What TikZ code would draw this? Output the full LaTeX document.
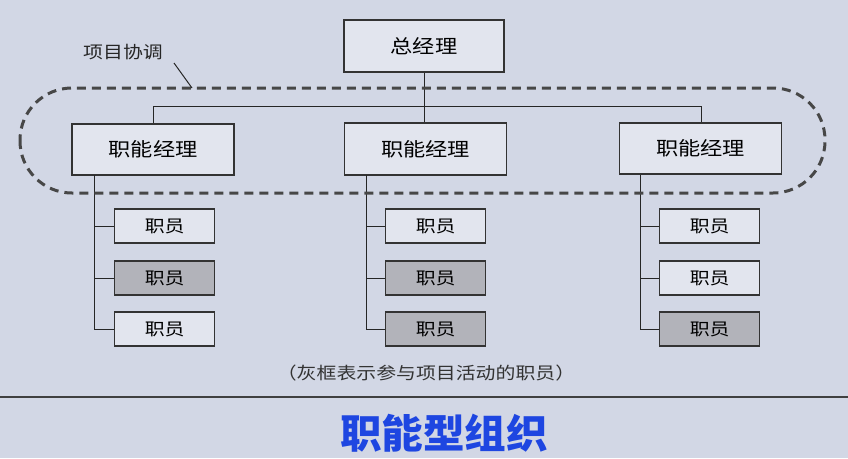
\documentclass[tikz,border=0pt]{standalone}
\usepackage{fontspec}
\newfontfamily\cjk{Noto Sans CJK SC}
\newcommand{\widetxt}[1]{\scalebox{1.17}[1]{#1}}
\begin{document}
\begin{tikzpicture}[x=1pt,y=-1pt,
  bx/.style={draw=black!80,line width=1.3pt,fill=boxw,inner sep=0pt,font=\cjk\fontsize{19}{19}\selectfont},
  emp/.style={draw=black!80,line width=1.3pt,fill=boxw,inner sep=0pt,minimum width=100pt,minimum height=34pt,font=\cjk\fontsize{17}{17}\selectfont},
  grayemp/.style={emp,fill=boxg},
  ln/.style={draw=black!85,line width=1pt}]
\definecolor{bg}{RGB}{210,215,229}
\definecolor{boxw}{RGB}{226,229,238}
\definecolor{boxg}{RGB}{178,179,186}
\definecolor{ttl}{RGB}{30,70,225}
\fill[bg] (0,0) rectangle (848,458);
\useasboundingbox (0,0) rectangle (848,458);
% boxes
\node[bx,minimum width=160pt,minimum height=52pt] (gm) at (424,46) {\widetxt{总经理}};
\node[bx,minimum width=162pt,minimum height=51pt] (f1) at (153,149.5) {\widetxt{职能经理}};
\node[bx,minimum width=162pt,minimum height=52pt] (f2) at (425.5,149) {\widetxt{职能经理}};
\node[bx,minimum width=162pt,minimum height=51pt] (f3) at (700.5,148.5) {\widetxt{职能经理}};
% connectors top
\coordinate (hl) at (153,106);
\coordinate (hr) at (701,106);
\draw[ln] (gm.south) -- (gm.south |- f2.north);
\draw[ln] (hl) -- (hr);
\draw[ln] (hl) -- (hl |- f1.north);
\draw[ln] (hr) -- (hr |- f3.north);
% employees
\foreach \c/\tx/\bxl/\sa/\sb/\sc in {1/94/114/emp/grayemp/emp, 2/366/385/emp/grayemp/grayemp, 3/640/659/emp/emp/grayemp}{
  \node[\sa,anchor=west] (e\c a) at (\bxl,226) {\widetxt{职员}};
  \node[\sb,anchor=west] (e\c b) at (\bxl,278) {\widetxt{职员}};
  \node[\sc,anchor=west] (e\c c) at (\bxl,329) {\widetxt{职员}};
  \coordinate (t\c) at (\tx,175);
  \draw[ln] (t\c) -- (t\c |- e\c c.west) -- (e\c c.west);
  \draw[ln] (t\c |- e\c a.west) -- (e\c a.west);
  \draw[ln] (t\c |- e\c b.west) -- (e\c b.west);
}
% dashed coordination loop
\draw[draw=black!72,line width=3pt,dash pattern=on 9pt off 6pt,rounded corners=52pt] (20,88) rectangle (825,193);
\node[font=\cjk\fontsize{17}{17}\selectfont,text=black!85] (lbl) at (123,52) {\widetxt{项目协调}};
\coordinate (lblA) at (174,63);
\coordinate (lblB) at (192,88);
\draw[black!85,line width=1pt] (lblA) -- (lblB);
% caption
\node[font=\cjk\fontsize{17}{17}\selectfont,text=black!80] (cap) at (426,373) {\widetxt{（灰框表示参与项目活动的职员）}};
\coordinate (sl) at (0,397);
\coordinate (sr) at (848,397);
\draw[black!75,line width=1.2pt] (sl) -- (sr);
\node[font=\cjk\bfseries\fontsize{40}{40}\selectfont,text=ttl] (title) at (444,433) {\scalebox{1.04}[1]{职能型组织}};
\end{tikzpicture}
\end{document}
